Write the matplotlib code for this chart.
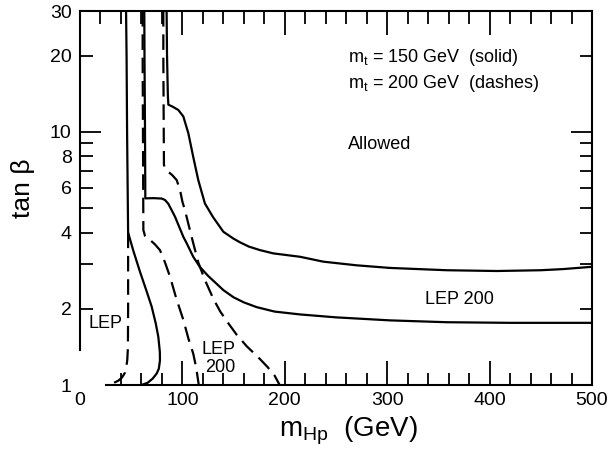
import matplotlib
matplotlib.use('Agg')
import matplotlib.pyplot as plt
from matplotlib.ticker import FixedLocator, NullFormatter

plt.rcParams['font.family'] = ['Liberation Sans', 'DejaVu Sans']
plt.rcParams['mathtext.fontset'] = 'custom'
plt.rcParams['mathtext.rm'] = 'Liberation Sans'
plt.rcParams['mathtext.it'] = 'Liberation Sans'
plt.rcParams['mathtext.default'] = 'regular'

# Curves: charged Higgs mass (GeV) vs tan(beta).
# m_t = 150 GeV (solid)
lep_150_x = [45, 45.5, 46, 47, 52, 58.6, 65, 70, 74, 76.5, 78, 78.1, 77, 74.9, 71, 66, 60]
lep_150_y = [30, 20, 10, 4, 3.4, 2.8, 2.35, 2.04, 1.75, 1.55, 1.35, 1.25, 1.16, 1.11,
             1.06, 1.02, 1.0]

mid_150_x = [62.8, 63, 63.5, 63.8, 72, 79.8, 83, 86.2, 89, 92.8, 100.9, 104.2, 110.6,
             117, 125, 136.7, 140, 150, 160, 172.6, 190, 214.8, 250, 302.7, 358, 420, 500]
mid_150_y = [30, 20, 10, 5.46, 5.47, 5.45, 5.38, 5.2, 4.95, 4.62, 3.85, 3.63, 3.21,
             2.93, 2.7, 2.44, 2.37, 2.22, 2.12, 2.03, 1.95, 1.9, 1.85, 1.8, 1.77, 1.76, 1.76]

top_150_x = [84.6, 85, 85.8, 86.3, 90, 96, 100.9, 105.8, 110.6, 115.5, 122, 130, 140,
             149.7, 156.3, 165, 175.8, 188.8, 214.8, 237.6, 270, 302.7, 358, 407, 450,
             472, 500]
top_150_y = [30, 20, 14, 12.8, 12.6, 12.2, 11.5, 9.88, 7.96, 6.45, 5.21, 4.6, 4.03,
             3.79, 3.66, 3.52, 3.41, 3.31, 3.21, 3.07, 2.97, 2.9, 2.84, 2.82, 2.84,
             2.87, 2.93]

# m_t = 200 GeV (dashes)
lep_200_x = [47, 47, 46.8, 46.2, 45.2, 44, 41, 37.4, 32, 26]
lep_200_y = [4, 2, 1.4, 1.26, 1.17, 1.12, 1.07, 1.04, 1.015, 1.0]

mid_200_x = [61.2, 61.2, 61.5, 61.9, 63.5, 66, 68.4, 73, 78.1, 83, 87.9, 94, 100.9,
             106, 110.6, 113.5, 116]
mid_200_y = [30, 20, 10, 4.09, 3.88, 3.78, 3.74, 3.6, 3.41, 3.05, 2.68, 2.2, 1.81,
             1.52, 1.33, 1.17, 1.0]

top_200_x = [81.4, 81.4, 81.8, 82, 83.5, 86.3, 90, 94.4, 97.7, 100, 102.5, 109, 115.5,
             122, 130, 137, 145, 153, 163, 173, 183, 190, 195]
top_200_y = [30, 20, 10, 7.4, 7.1, 6.95, 6.75, 6.45, 5.89, 5.3, 4.9, 3.85, 3.05,
             2.6, 2.2, 1.95, 1.75, 1.58, 1.42, 1.3, 1.18, 1.09, 1.0]

xtick_vals = [0, 100, 200, 300, 400, 500]
xminor_vals = [v for v in range(20, 500, 20) if v % 100 != 0]
ytick_vals = [1, 2, 4, 6, 8, 10, 20, 30]
yminor_vals = [3, 5, 7, 9]

fig = plt.figure(figsize=(6.11, 4.53), dpi=100)
ax = fig.add_axes([0.1309, 0.1501, 0.838, 0.8256])

lw = 1.6
dash = (0, (7, 3.5))
for xs, ys in [(lep_150_x, lep_150_y), (mid_150_x, mid_150_y), (top_150_x, top_150_y)]:
    ax.plot(xs, ys, color='black', lw=lw, solid_capstyle='butt')
for xs, ys in [(lep_200_x, lep_200_y), (mid_200_x, mid_200_y), (top_200_x, top_200_y)]:
    ax.plot(xs, ys, color='black', lw=lw, linestyle=dash)

ax.set_yscale('log')
ax.set_xlim(0, 500)
ax.set_ylim(1, 30)

ax.xaxis.set_major_locator(FixedLocator(xtick_vals))
ax.xaxis.set_minor_locator(FixedLocator(xminor_vals))
ax.set_xticklabels([str(v) for v in xtick_vals])
ax.yaxis.set_major_locator(FixedLocator(ytick_vals))
ax.yaxis.set_minor_locator(FixedLocator(yminor_vals))
ax.yaxis.set_minor_formatter(NullFormatter())
ax.set_yticklabels([str(v) for v in ytick_vals])

ax.tick_params(which='both', direction='in', top=True, right=True, width=1.3,
               labelsize=14)
ax.tick_params(axis='x', which='major', length=17, pad=5)
ax.tick_params(axis='x', which='minor', length=9)
ax.tick_params(axis='y', which='both', length=9, pad=6)

for t in ax.yaxis.get_major_ticks():
    if t.get_loc() == 10:
        t.tick1line.set_markersize(15)
        t.tick2line.set_markersize(15)
ax.yaxis.get_major_ticks()[0].tick1line.set_visible(False)
ax.xaxis.get_major_ticks()[0].tick1line.set_visible(False)
ax.xaxis.get_minor_ticks()[0].tick1line.set_visible(False)

for s in ax.spines.values():
    s.set_linewidth(1.5)
ax.spines['left'].set_bounds(1.37, 30)
ax.spines['bottom'].set_bounds(25, 500)

# Annotations
fs = 13
ax.text(261.7, 18.9, r'm$_t$ = 150 GeV  (solid)', fontsize=fs, va='baseline')
ax.text(261.7, 14.9, r'm$_t$ = 200 GeV  (dashes)', fontsize=fs, va='baseline')
ax.text(261.7, 8.55, 'Allowed', fontsize=fs, va='baseline')
ax.text(337, 2.08, 'LEP 200', fontsize=fs, va='baseline')
ax.text(8.1, 1.68, 'LEP', fontsize=fs, va='baseline')
ax.text(118.8, 1.326, 'LEP', fontsize=fs, va='baseline')
ax.text(122, 1.13, '200', fontsize=fs, va='baseline')

ax.set_xlabel(r'm$_{Hp}$  (GeV)', fontsize=20, va='center')
ax.xaxis.set_label_coords(0.525, -0.123)
ax.set_ylabel('tan β', fontsize=19, va='center')
ax.yaxis.set_label_coords(-0.111, 0.527)

fig.savefig('out.png', dpi=100)
